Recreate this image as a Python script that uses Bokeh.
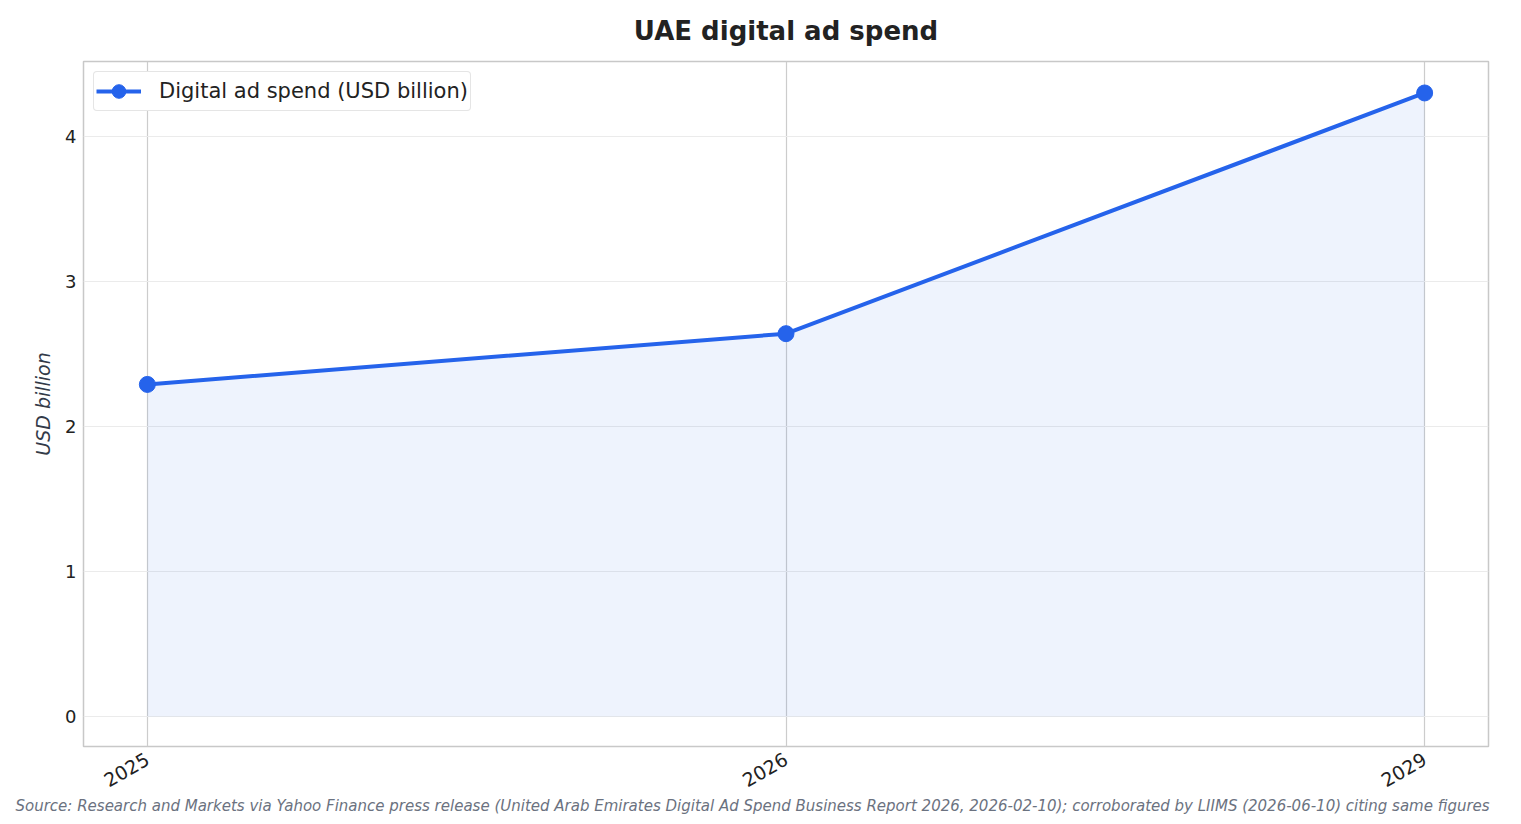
from math import pi

from bokeh.embed import file_html
from bokeh.models import ColumnDataSource, FixedTicker, Legend, LegendItem, Range1d, Title
from bokeh.plotting import figure
from bokeh.resources import INLINE

years = ["2025", "2026", "2029"]
spend = [2.29, 2.64, 4.30]

FONT = "DejaVu Sans"
BLUE = "#2563eb"

xs = list(range(len(years)))
src = ColumnDataSource(data=dict(x=xs, y=spend, base=[0] * len(xs)))

p = figure(width=1505, height=816, output_backend="svg", toolbar_location=None,
           x_range=Range1d(-0.1, 2.1), y_range=Range1d(-0.207, 4.517),
           min_border_left=83, min_border_right=17, min_border_top=61, min_border_bottom=70)

p.title.text = "UAE digital ad spend"
p.title.text_font = FONT
p.title.text_font_size = "26px"
p.title.text_font_style = "bold"
p.title.text_color = "#222222"
p.title.align = "center"
p.title.vertical_align = "top"
p.title.standoff = 28

p.outline_line_color = "#c8c8c8"
p.outline_line_width = 1.5

p.xaxis.ticker = FixedTicker(ticks=xs)
p.xaxis.major_label_overrides = {i: y for i, y in enumerate(years)}
p.xaxis.major_label_orientation = pi / 6
p.yaxis.ticker = FixedTicker(ticks=[0, 1, 2, 3, 4])
for ax in (p.xaxis, p.yaxis):
    ax.axis_line_color = None
    ax.major_tick_line_color = None
    ax.minor_tick_line_color = None
    ax.major_label_text_font = FONT
    ax.major_label_text_font_size = "18px"
    ax.major_label_text_color = "#222222"
p.xaxis.major_label_text_font_size = "19px"
p.xaxis.major_label_standoff = 5
p.yaxis.major_label_standoff = 1

p.yaxis.axis_label = "USD billion"
p.yaxis.axis_label_text_font = FONT
p.yaxis.axis_label_text_font_size = "19px"
p.yaxis.axis_label_text_font_style = "italic"
p.yaxis.axis_label_text_color = "#333a48"
p.yaxis.axis_label_standoff = 8

p.xgrid.grid_line_color = "#cccccc"
p.xgrid.grid_line_width = 1.2
p.ygrid.grid_line_color = "#ebebeb"
p.ygrid.grid_line_width = 1

p.varea(x="x", y1="base", y2="y", source=src, fill_color=BLUE, fill_alpha=0.08)
ln = p.line(x="x", y="y", source=src, line_color=BLUE, line_width=4)
pts = p.scatter(x="x", y="y", source=src, size=16, fill_color=BLUE, line_color=BLUE)

legend = Legend(items=[LegendItem(label="Digital ad spend (USD billion)", renderers=[ln, pts])],
                location="top_left", label_text_font=FONT, label_text_font_size="21px",
                label_text_color="#222222", border_line_color="#cccccc", border_line_width=1.5,
                border_radius=4, glyph_width=45, glyph_height=34, label_standoff=18,
                padding=2, margin=10, background_fill_alpha=1)
p.add_layout(legend)

src_note = Title(text="Source: Research and Markets via Yahoo Finance press release (United Arab Emirates "
                      "Digital Ad Spend Business Report 2026, 2026-02-10); corroborated by LIIMS (2026-06-10) "
                      "citing same figures",
                 align="left", offset=-68, vertical_align="top", text_font=FONT, text_font_size="15px",
                 text_font_style="italic", text_color="#6b7280", standoff=0)
p.add_layout(src_note, "below")

open("out.html", "w").write(file_html(p, INLINE))
